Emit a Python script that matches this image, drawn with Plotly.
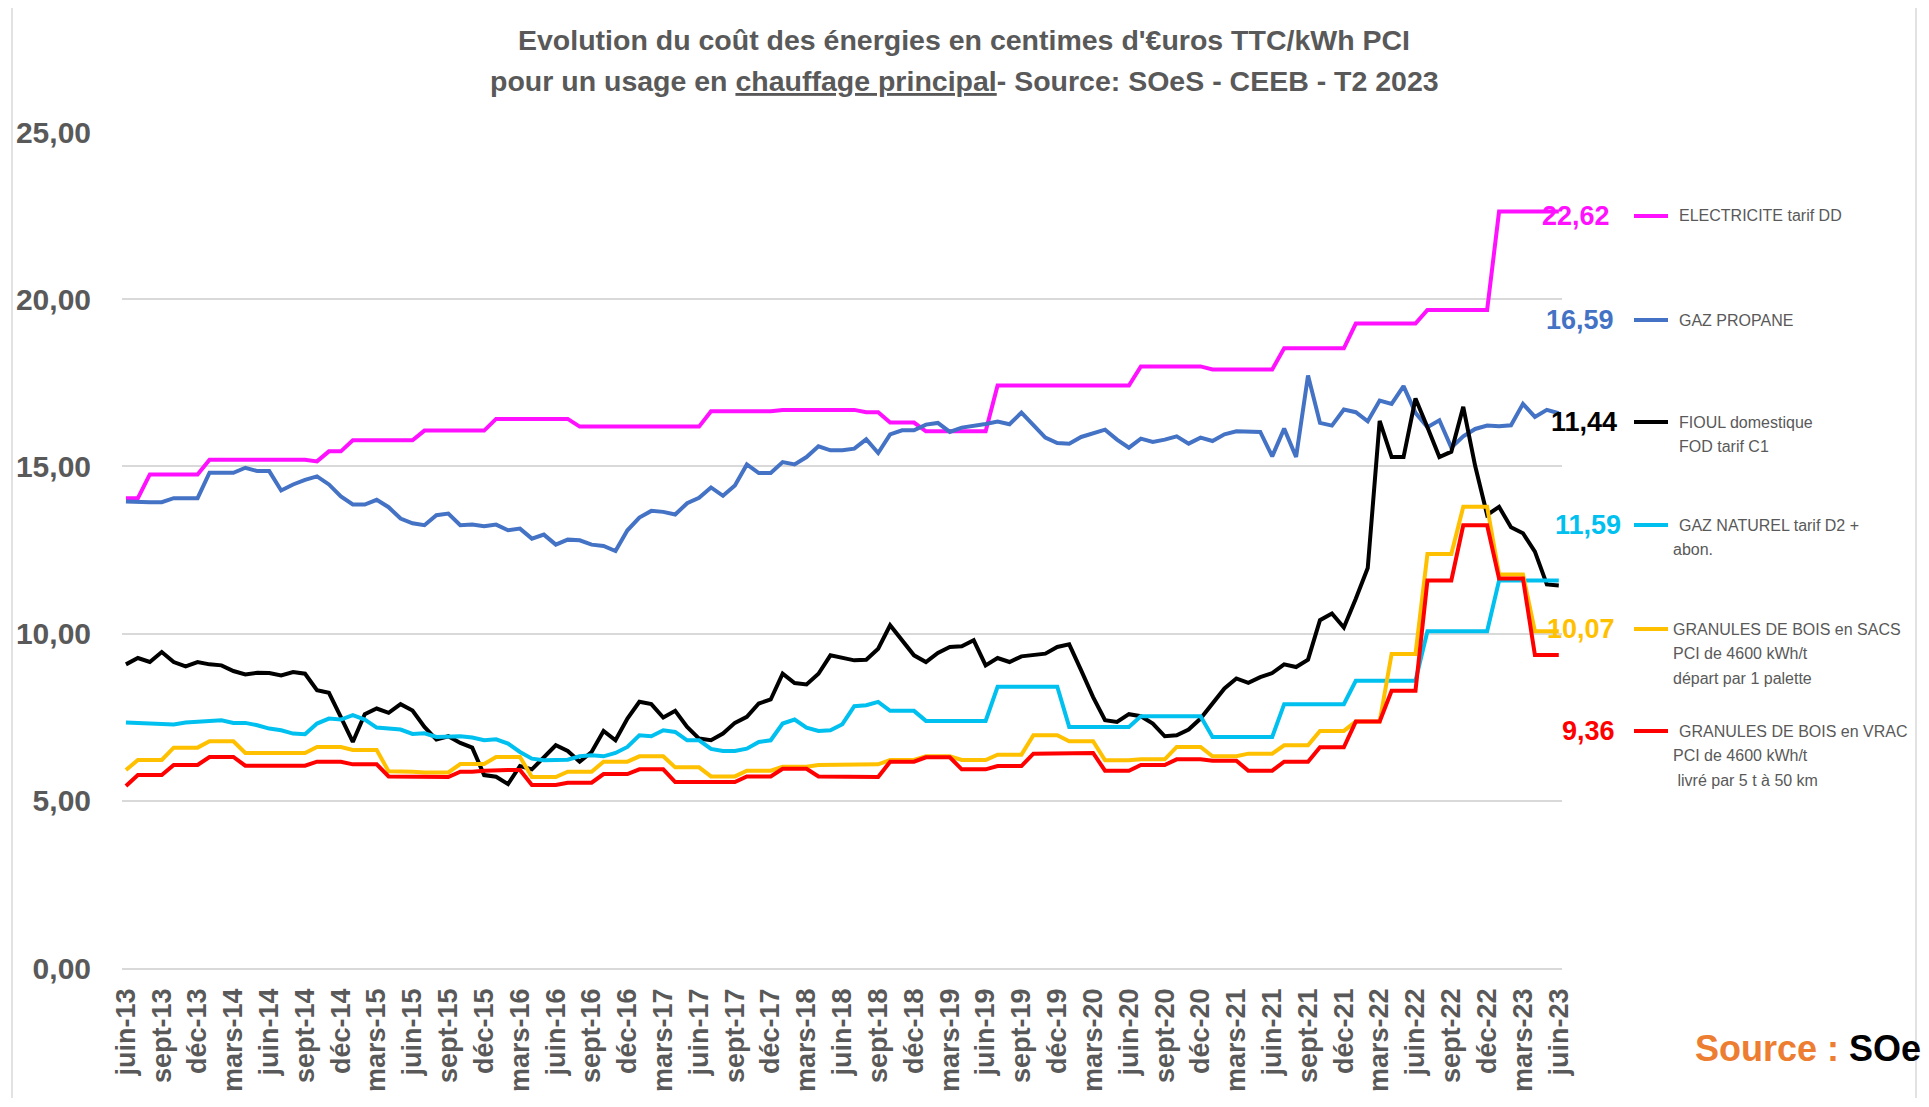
import plotly.graph_objects as go

# ---------------- data ----------------
MONTHS_FR = ["janv", "févr", "mars", "avr", "mai", "juin",
             "juil", "août", "sept", "oct", "nov", "déc"]
# monthly categories juin-13 ... juin-23
categories = [f"{MONTHS_FR[(5 + k) % 12]}-{13 + (5 + k) // 12}" for k in range(121)]
tick_labels = categories[::3]

elec = [
    14.05, 14.05, 14.76, 14.76, 14.76, 14.76, 14.76, 15.20, 15.20, 15.20, 15.20, 15.20,
    15.20, 15.20, 15.20, 15.20, 15.15, 15.45, 15.45, 15.78, 15.78, 15.78, 15.78, 15.78,
    15.78, 16.07, 16.07, 16.07, 16.07, 16.07, 16.07, 16.42, 16.42, 16.42, 16.42, 16.42,
    16.42, 16.42, 16.19, 16.19, 16.19, 16.19, 16.19, 16.19, 16.19, 16.19, 16.19, 16.19,
    16.19, 16.65, 16.65, 16.65, 16.65, 16.65, 16.65, 16.69, 16.69, 16.69, 16.69, 16.69,
    16.69, 16.69, 16.62, 16.62, 16.31, 16.31, 16.31, 16.05, 16.05, 16.05, 16.05, 16.05,
    16.05, 17.42, 17.42, 17.42, 17.42, 17.42, 17.42, 17.42, 17.42, 17.42, 17.42, 17.42,
    17.42, 17.99, 17.99, 17.99, 17.99, 17.99, 17.99, 17.90, 17.90, 17.90, 17.90, 17.90,
    17.90, 18.53, 18.53, 18.53, 18.53, 18.53, 18.53, 19.27, 19.27, 19.27, 19.27, 19.27,
    19.27, 19.68, 19.68, 19.68, 19.68, 19.68, 19.68, 22.62, 22.62, 22.62, 22.62, 22.62,
    22.62,
]

propane = [
    13.95, 13.93, 13.93, 13.93, 14.05, 14.05, 14.05, 14.81, 14.81, 14.81, 14.96, 14.86,
    14.86, 14.28, 14.46, 14.60, 14.70, 14.46, 14.10, 13.86, 13.86, 14.00, 13.78, 13.44,
    13.30, 13.24, 13.54, 13.59, 13.24, 13.26, 13.21, 13.26, 13.09, 13.14, 12.84, 12.96,
    12.66, 12.81, 12.79, 12.66, 12.62, 12.47, 13.09, 13.47, 13.67, 13.64, 13.56, 13.90,
    14.06, 14.37, 14.12, 14.43, 15.06, 14.80, 14.80, 15.13, 15.06, 15.28, 15.60, 15.48,
    15.48, 15.53, 15.81, 15.40, 15.96, 16.08, 16.08, 16.25, 16.30, 16.03, 16.16, 16.20,
    16.27, 16.34, 16.26, 16.61, 16.22, 15.86, 15.70, 15.68, 15.88, 15.98, 16.10, 15.80,
    15.56, 15.83, 15.73, 15.80, 15.90, 15.68, 15.86, 15.76, 15.96, 16.05, 16.05, 16.03,
    15.30, 16.13, 15.28, 17.72, 16.30, 16.22, 16.70, 16.62, 16.35, 16.97, 16.87, 17.40,
    16.60, 16.17, 16.38, 15.56, 15.90, 16.12, 16.22, 16.20, 16.23, 16.87, 16.48, 16.69,
    16.59,
]

fioul = [
    9.08, 9.27, 9.15, 9.45, 9.15, 9.02, 9.15, 9.08, 9.05, 8.88, 8.78, 8.83,
    8.82, 8.75, 8.85, 8.80, 8.31, 8.23, 7.50, 6.76, 7.59, 7.76, 7.63, 7.89,
    7.70, 7.21, 6.83, 6.93, 6.73, 6.59, 5.77, 5.72, 5.50, 6.04, 5.94, 6.31,
    6.66, 6.49, 6.17, 6.46, 7.09, 6.81, 7.46, 7.96, 7.89, 7.49, 7.69, 7.21,
    6.86, 6.81, 7.01, 7.33, 7.51, 7.91, 8.03, 8.80, 8.52, 8.48, 8.80, 9.35,
    9.28, 9.20, 9.22, 9.55, 10.25, 9.80, 9.35, 9.15, 9.42, 9.60, 9.62, 9.80,
    9.05, 9.27, 9.15, 9.32, 9.35, 9.40, 9.60, 9.68, 8.90, 8.10, 7.41, 7.36,
    7.59, 7.53, 7.31, 6.93, 6.96, 7.13, 7.46, 7.91, 8.36, 8.66, 8.53, 8.70,
    8.82, 9.08, 9.00, 9.22, 10.40, 10.60, 10.18, 11.04, 11.96, 16.36, 15.28, 15.28,
    17.03, 16.17, 15.28, 15.44, 16.78, 15.01, 13.55, 13.79, 13.18, 13.00, 12.45, 11.47,
    11.44,
]

gaz_naturel = [
    7.34, 7.33, 7.31, 7.31, 7.28, 7.34, 7.36, 7.41, 7.41, 7.33, 7.33, 7.26,
    7.16, 7.11, 7.01, 6.99, 7.31, 7.46, 7.43, 7.56, 7.43, 7.19, 7.16, 7.13,
    7.00, 7.02, 6.91, 6.91, 6.93, 6.89, 6.81, 6.84, 6.71, 6.46, 6.26, 6.21,
    6.21, 6.23, 6.33, 6.36, 6.33, 6.43, 6.61, 6.96, 6.93, 7.11, 7.06, 6.81,
    6.81, 6.55, 6.49, 6.49, 6.56, 6.76, 6.81, 7.31, 7.43, 7.19, 7.09, 7.11,
    7.29, 7.83, 7.86, 7.96, 7.69, 7.69, 7.69, 7.39, 7.39, 7.39, 7.39, 7.39,
    7.39, 8.41, 8.41, 8.41, 8.41, 8.41, 8.41, 7.21, 7.21, 7.21, 7.21, 7.21,
    7.21, 7.53, 7.53, 7.53, 7.53, 7.53, 7.53, 6.91, 6.91, 6.91, 6.91, 6.91,
    6.91, 7.89, 7.89, 7.89, 7.89, 7.89, 7.89, 8.59, 8.59, 8.59, 8.59, 8.59,
    8.59, 10.07, 10.07, 10.07, 10.07, 10.07, 10.07, 11.59, 11.59, 11.59, 11.59, 11.59,
    11.59,
]

granules_sacs = [
    5.92, 6.22, 6.22, 6.22, 6.59, 6.59, 6.59, 6.78, 6.78, 6.78, 6.43, 6.43,
    6.43, 6.43, 6.43, 6.43, 6.61, 6.61, 6.61, 6.52, 6.52, 6.52, 5.88, 5.88,
    5.87, 5.85, 5.85, 5.85, 6.10, 6.10, 6.10, 6.31, 6.31, 6.31, 5.71, 5.71,
    5.71, 5.87, 5.87, 5.87, 6.17, 6.17, 6.17, 6.33, 6.33, 6.33, 6.00, 6.00,
    6.00, 5.73, 5.73, 5.73, 5.90, 5.90, 5.90, 6.02, 6.02, 6.02, 6.07, 6.07,
    6.07, 6.09, 6.09, 6.09, 6.22, 6.22, 6.22, 6.33, 6.33, 6.33, 6.22, 6.22,
    6.22, 6.38, 6.38, 6.38, 6.96, 6.96, 6.96, 6.78, 6.78, 6.78, 6.21, 6.21,
    6.21, 6.24, 6.24, 6.24, 6.61, 6.61, 6.61, 6.33, 6.33, 6.33, 6.41, 6.41,
    6.41, 6.66, 6.66, 6.66, 7.09, 7.09, 7.09, 7.37, 7.37, 7.37, 9.39, 9.39,
    9.39, 12.38, 12.38, 12.38, 13.79, 13.79, 13.79, 11.77, 11.77, 11.77, 10.07, 10.07,
    10.07,
]

granules_vrac = [
    5.44, 5.77, 5.77, 5.77, 6.07, 6.07, 6.07, 6.31, 6.31, 6.31, 6.05, 6.05,
    6.05, 6.05, 6.05, 6.05, 6.17, 6.17, 6.17, 6.09, 6.09, 6.09, 5.73, 5.73,
    5.72, 5.71, 5.71, 5.71, 5.87, 5.87, 5.90, 5.92, 5.92, 5.92, 5.47, 5.47,
    5.47, 5.54, 5.54, 5.54, 5.80, 5.80, 5.80, 5.94, 5.94, 5.94, 5.56, 5.56,
    5.56, 5.56, 5.56, 5.56, 5.73, 5.73, 5.73, 5.96, 5.96, 5.96, 5.73, 5.73,
    5.73, 5.71, 5.71, 5.71, 6.17, 6.17, 6.17, 6.30, 6.30, 6.30, 5.94, 5.94,
    5.94, 6.04, 6.04, 6.04, 6.41, 6.41, 6.42, 6.43, 6.43, 6.43, 5.90, 5.90,
    5.90, 6.07, 6.07, 6.07, 6.24, 6.24, 6.24, 6.20, 6.20, 6.20, 5.90, 5.90,
    5.90, 6.17, 6.17, 6.17, 6.60, 6.60, 6.60, 7.37, 7.37, 7.37, 8.29, 8.29,
    8.29, 11.59, 11.59, 11.59, 13.24, 13.24, 13.24, 11.65, 11.65, 11.65, 9.36, 9.36,
    9.36,
]

series_names = [
    ["ELECTRICITE tarif DD"],
    ["GAZ PROPANE"],
    ["FIOUL domestique", "FOD tarif C1"],
    ["GAZ NATUREL tarif D2 +", "abon."],
    ["GRANULES DE BOIS en SACS", "PCI de 4600 kWh/t", "départ par 1 palette"],
    ["GRANULES DE BOIS en VRAC", "PCI de 4600 kWh/t", " livré par 5 t à 50 km"],
]
series_values = [elec, propane, fioul, gaz_naturel, granules_sacs, granules_vrac]
series_colors = ["#FF10FF", "#4472C4", "#000000", "#00C0EF", "#FFC000", "#FF0000"]

# ---------------- layout geometry ----------------
# The page body has an 8px margin, so the figure is drawn 8px smaller on each side
# and every reference pixel position is shifted by that offset.
OFF = 8
W, H = 1929 - 2 * OFF, 1107 - 2 * OFF
PL, PR, PT, PB = 122, 1562, 132, 968   # plot-area edges in reference pixels


def px(x):
    return (x - PL) / (PR - PL)


def py(y):
    return (PB - y) / (PB - PT)


GRAY = "#595959"
FONT = "Liberation Sans, Arial, sans-serif"

fig = go.Figure()
for names, vals, col in zip(series_names, series_values, series_colors):
    fig.add_trace(go.Scatter(
        x=categories, y=vals, mode="lines", name=" ".join(names),
        line=dict(color=col, width=4), showlegend=False, hoverinfo="skip",
    ))

annotations = []
shapes = []

# title
annotations.append(dict(
    x=px(964), y=py(40), xref="paper", yref="paper", xanchor="center", yanchor="middle",
    text="Evolution du coût des énergies en centimes d'€uros TTC/kWh PCI",
    showarrow=False, font=dict(family=FONT, size=28.5, color=GRAY, weight="bold"),
))
annotations.append(dict(
    x=px(964), y=py(81), xref="paper", yref="paper", xanchor="center", yanchor="middle",
    text="pour un usage en <u>chauffage principal</u>- Source: SOeS - CEEB - T2 2023",
    showarrow=False, font=dict(family=FONT, size=28.5, color=GRAY, weight="bold"),
))

# custom legend + end values
legend_y = [216, 320, 422, 525, 629, 731]
value_x = [1576, 1580, 1584, 1588, 1581, 1588]
text_x = [
    [1677], [1677], [1677, 1677], [1677, 1671], [1671, 1671, 1671], [1677, 1671, 1671],
]
for k, (names, vals, col) in enumerate(zip(series_names, series_values, series_colors)):
    y0 = legend_y[k]
    shapes.append(dict(
        type="line", xref="paper", yref="paper",
        x0=px(1634), x1=px(1668), y0=py(y0), y1=py(y0),
        line=dict(color=col, width=4),
    ))
    for j, line_txt in enumerate(names):
        annotations.append(dict(
            x=px(text_x[k][j]), y=py(y0 + 24.5 * j), xref="paper", yref="paper",
            xanchor="left", yanchor="middle", text=line_txt, showarrow=False,
            font=dict(family=FONT, size=16, color=GRAY),
        ))
    label = f"{vals[-1]:.2f}".replace(".", ",")
    annotations.append(dict(
        x=px(value_x[k]), y=py(y0), xref="paper", yref="paper",
        xanchor="center", yanchor="middle", text=label, showarrow=False,
        font=dict(family=FONT, size=27, color=col, weight="bold"),
    ))

# source
annotations.append(dict(
    x=px(1693), y=py(1048), xref="paper", yref="paper", xanchor="left", yanchor="middle",
    text="<span style='color:#ED7D31'>Source : </span><span style='color:#000000'>SOe</span>",
    showarrow=False, font=dict(family=FONT, size=36, weight="bold"),
))

# chart frame (left, top, right edges only)
frame = dict(color="#D9D9D9", width=1.5)
for (xa, ya, xb, yb) in [(12, 1098, 12, 6), (12, 6, 1916, 6), (1916, 6, 1916, 1098)]:
    shapes.append(dict(
        type="line", xref="paper", yref="paper", layer="below",
        x0=px(xa), y0=py(ya), x1=px(xb), y1=py(yb), line=frame,
    ))

fig.update_layout(
    width=W, height=H,
    margin=dict(l=PL - OFF, r=W - (PR - OFF), t=PT - OFF, b=H - (PB - OFF), autoexpand=False),
    paper_bgcolor="white", plot_bgcolor="white",
    separators=", ",
    showlegend=False,
    annotations=annotations,
    shapes=shapes,
    font=dict(family=FONT, color=GRAY),
)

fig.update_xaxes(
    type="category", range=[-0.33, 120.27],
    tickmode="array", tickvals=tick_labels, ticktext=tick_labels,
    tickangle=-90, ticks="", ticklabelstandoff=8,
    tickfont=dict(family=FONT, size=27, color=GRAY, weight="bold"),
    showgrid=False, showline=True, linecolor="#D9D9D9", linewidth=1.5,
    zeroline=False, automargin=False,
)
fig.update_yaxes(
    range=[0, 25], dtick=5, tick0=0, tickformat=".2f",
    ticks="", ticklabelstandoff=30,
    tickfont=dict(family=FONT, size=30, color=GRAY, weight="bold"),
    showgrid=True, gridcolor="#D9D9D9", gridwidth=1.5,
    zeroline=False, showline=False, automargin=False,
)

fig.write_html("out.html", config={"displayModeBar": False})
